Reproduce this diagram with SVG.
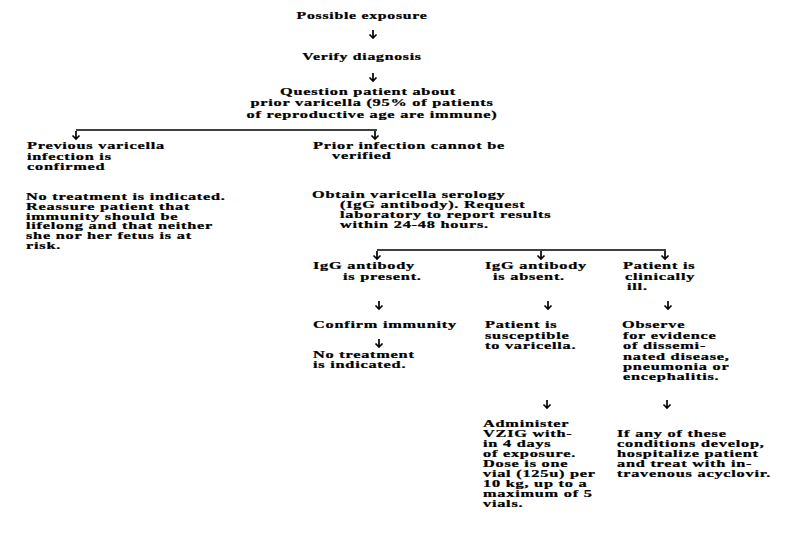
<svg xmlns="http://www.w3.org/2000/svg" xmlns:xlink="http://www.w3.org/1999/xlink" width="810" height="540" viewBox="0 0 810 540">
<style>
  text { font-family: "Liberation Serif", "Times New Roman", serif; font-size: 10.5px; font-weight: bold; letter-spacing: 0.5px; fill: #000; stroke: #000; stroke-width: 0.25px; }
  .c { text-anchor: middle; }
  .ln { stroke: #000; stroke-width: 1.7; fill: none; }
</style>
<defs>
  <path id="arr" d="M0,-4 V3.5 M-3.5,0.5 L0,4 L3.5,0.5" stroke="#000" stroke-width="1.7" fill="none"/>
</defs>
<rect width="810" height="540" fill="#fff"/>

<g id="connectors">
  <line class="ln" x1="76" y1="130" x2="377" y2="130"/>
  <line class="ln" x1="377" y1="250" x2="666" y2="250"/>
  <use xlink:href="#arr" x="373" y="34"/>
  <use xlink:href="#arr" x="373" y="77"/>
  <use xlink:href="#arr" x="76" y="135"/>
  <use xlink:href="#arr" x="375" y="135"/>
  <use xlink:href="#arr" x="377" y="255"/>
  <use xlink:href="#arr" x="541" y="255"/>
  <use xlink:href="#arr" x="665" y="255"/>
  <use xlink:href="#arr" x="379" y="305"/>
  <use xlink:href="#arr" x="548" y="305"/>
  <use xlink:href="#arr" x="668" y="305"/>
  <use xlink:href="#arr" x="379" y="343"/>
  <use xlink:href="#arr" x="547" y="404"/>
  <use xlink:href="#arr" x="667" y="404"/>
</g>

<g id="n-exposure"><text class="c" transform="translate(362 19) scale(1.5 1)">Possible exposure</text></g>
<g id="n-verify"><text class="c" transform="translate(362 60) scale(1.5 1)">Verify diagnosis</text></g>
<g id="n-question">
  <text class="c" transform="translate(368 95) scale(1.55 1)">Question patient about</text>
  <text class="c" transform="translate(372 106) scale(1.55 1)">prior varicella (95% of patients</text>
  <text class="c" transform="translate(372 118) scale(1.55 1)">of reproductive age are immune)</text>
</g>
<g id="n-previous">
  <text transform="translate(27 149) scale(1.55 1)">Previous varicella</text>
  <text transform="translate(27 160) scale(1.55 1)">infection is</text>
  <text transform="translate(27 170) scale(1.55 1)">confirmed</text>
</g>
<g id="n-no-treatment-1">
  <text transform="translate(26 200) scale(1.55 1)">No treatment is indicated.</text>
  <text transform="translate(26 209.8) scale(1.55 1)">Reassure patient that</text>
  <text transform="translate(26 219.6) scale(1.55 1)">immunity should be</text>
  <text transform="translate(26 229.4) scale(1.55 1)">lifelong and that neither</text>
  <text transform="translate(26 239.2) scale(1.55 1)">she nor her fetus is at</text>
  <text transform="translate(26 249) scale(1.55 1)">risk.</text>
</g>
<g id="n-prior">
  <text transform="translate(313 149) scale(1.55 1)">Prior infection cannot be</text>
  <text transform="translate(332 158.5) scale(1.55 1)">verified</text>
</g>
<g id="n-serology">
  <text transform="translate(312 198) scale(1.55 1)">Obtain varicella serology</text>
  <text transform="translate(340 208) scale(1.55 1)">(IgG antibody). Request</text>
  <text transform="translate(340 218) scale(1.55 1)">laboratory to report results</text>
  <text transform="translate(340 228) scale(1.55 1)">within 24-48 hours.</text>
</g>
<g id="n-present">
  <text transform="translate(313 269) scale(1.55 1)">IgG antibody</text>
  <text transform="translate(343 279.5) scale(1.55 1)">is present.</text>
</g>
<g id="n-absent">
  <text transform="translate(485 269) scale(1.55 1)">IgG antibody</text>
  <text transform="translate(493 279.5) scale(1.55 1)">is absent.</text>
</g>
<g id="n-ill">
  <text transform="translate(623 269) scale(1.55 1)">Patient is</text>
  <text transform="translate(625 279.5) scale(1.55 1)">clinically</text>
  <text transform="translate(627 290) scale(1.55 1)">ill.</text>
</g>
<g id="n-confirm"><text transform="translate(313 328) scale(1.55 1)">Confirm immunity</text></g>
<g id="n-no-treatment-2">
  <text transform="translate(313 358) scale(1.55 1)">No treatment</text>
  <text transform="translate(313 368) scale(1.55 1)">is indicated.</text>
</g>
<g id="n-susceptible">
  <text transform="translate(485 328) scale(1.55 1)">Patient is</text>
  <text transform="translate(485 339) scale(1.55 1)">susceptible</text>
  <text transform="translate(485 349) scale(1.55 1)">to varicella.</text>
</g>
<g id="n-observe">
  <text transform="translate(622 328) scale(1.55 1)">Observe</text>
  <text transform="translate(623 339) scale(1.55 1)">for evidence</text>
  <text transform="translate(623 349) scale(1.55 1)">of dissemi-</text>
  <text transform="translate(623 360) scale(1.55 1)">nated disease,</text>
  <text transform="translate(623 370) scale(1.55 1)">pneumonia or</text>
  <text transform="translate(623 380) scale(1.55 1)">encephalitis.</text>
</g>
<g id="n-vzig">
  <text transform="translate(483 427) scale(1.55 1)">Administer</text>
  <text transform="translate(483 437) scale(1.55 1)">VZIG with-</text>
  <text transform="translate(483 447) scale(1.55 1)">in 4 days</text>
  <text transform="translate(483 457) scale(1.55 1)">of exposure.</text>
  <text transform="translate(483 467) scale(1.55 1)">Dose is one</text>
  <text transform="translate(483 477) scale(1.55 1)">vial (125u) per</text>
  <text transform="translate(483 487) scale(1.55 1)">10 kg, up to a</text>
  <text transform="translate(483 497) scale(1.55 1)">maximum of 5</text>
  <text transform="translate(483 506.5) scale(1.55 1)">vials.</text>
</g>
<g id="n-hospitalize">
  <text transform="translate(617 437) scale(1.55 1)">If any of these</text>
  <text transform="translate(617 447) scale(1.55 1)">conditions develop,</text>
  <text transform="translate(617 457) scale(1.55 1)">hospitalize patient</text>
  <text transform="translate(617 467) scale(1.55 1)">and treat with in-</text>
  <text transform="translate(617 477) scale(1.55 1)">travenous acyclovir.</text>
</g>
</svg>
